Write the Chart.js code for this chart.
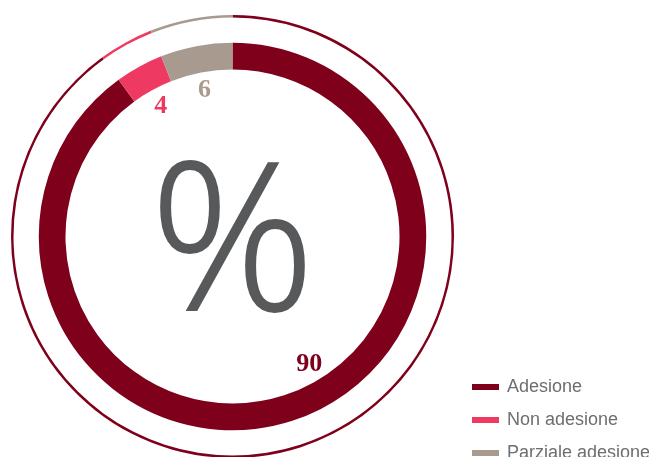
<!DOCTYPE html>
<html>
<head>
<meta charset="utf-8">
<script src="https://cdn.jsdelivr.net/npm/chart.js@4.4.0/dist/chart.umd.min.js"></script>
<style>
  html, body { margin: 0; padding: 0; background: #fff; overflow: hidden; }
  .wrap { position: relative; width: 649px; height: 480px; }
  #legend {
    position: absolute; left: 472px; top: 370px;
    list-style: none; margin: 0; padding: 0;
    font-family: "Liberation Sans", Arial, sans-serif; font-size: 18px; color: #6d6e71;
  }
  #legend li { height: 33px; display: flex; align-items: center; white-space: nowrap; }
  #legend .box { display: inline-block; width: 27px; height: 6px; margin-right: 8px; }
</style>
</head>
<body>
<div class="wrap">
  <canvas id="adesioneChart" width="649" height="480"></canvas>
  <ul id="legend"></ul>
</div>
<script>
const categories = ['Adesione', 'Non adesione', 'Parziale adesione'];
const values = [90, 4, 6];
const colors = ['#7f001a', '#ee3a62', '#a89a8f'];
// where each value label sits along its slice (0 = start, 1 = end)
const labelAt = [0.46, 0.5, 0.5];

// value labels inside the thick ring
const sliceLabels = {
  id: 'sliceLabels',
  afterDatasetsDraw(chart) {
    const ctx = chart.ctx;
    const meta = chart.getDatasetMeta(2);
    ctx.save();
    ctx.font = 'bold 26px "Liberation Serif", "DejaVu Serif", serif';
    ctx.textAlign = 'center';
    ctx.textBaseline = 'middle';
    meta.data.forEach((arc, i) => {
      const a = arc.startAngle + (arc.endAngle - arc.startAngle) * labelAt[i];
      const r = arc.innerRadius - 18;
      ctx.fillStyle = colors[i];
      ctx.fillText(String(values[i]), arc.x + Math.cos(a) * r, arc.y + Math.sin(a) * r);
    });
    ctx.restore();
  }
};

// big percent sign in the hole
const centerSign = {
  id: 'centerSign',
  afterDraw(chart) {
    const ctx = chart.ctx;
    const arc = chart.getDatasetMeta(2).data[0];
    ctx.save();
    ctx.font = '300 205px "Open Sans", "Liberation Sans", sans-serif';
    ctx.fillStyle = '#58595b';
    ctx.strokeStyle = '#58595b';
    ctx.lineWidth = 1.8;
    ctx.textAlign = 'center';
    ctx.textBaseline = 'alphabetic';
    ctx.fillText('%', arc.x, arc.y + 73);
    ctx.strokeText('%', arc.x, arc.y + 73);
    ctx.restore();
  }
};

new Chart(document.getElementById('adesioneChart'), {
  type: 'doughnut',
  data: {
    labels: categories,
    datasets: [
      { data: values, backgroundColor: colors, borderWidth: 0, weight: 2.5 },
      { data: values, backgroundColor: 'rgba(0,0,0,0)', borderWidth: 0, weight: 25 },
      { data: values, backgroundColor: colors, borderWidth: 0, weight: 26.5 }
    ]
  },
  options: {
    responsive: false,
    animation: false,
    cutout: '75.4%',
    layout: { padding: { left: 11, top: 15, right: 195, bottom: 22 } },
    plugins: {
      legend: { display: false },
      tooltip: { enabled: false }
    }
  },
  plugins: [sliceLabels, centerSign]
});

const legend = document.getElementById('legend');
categories.forEach((name, i) => {
  const li = document.createElement('li');
  li.innerHTML = `<span class="box" style="background:${colors[i]}"></span>${name}`;
  legend.appendChild(li);
});
</script>
</body>
</html>
